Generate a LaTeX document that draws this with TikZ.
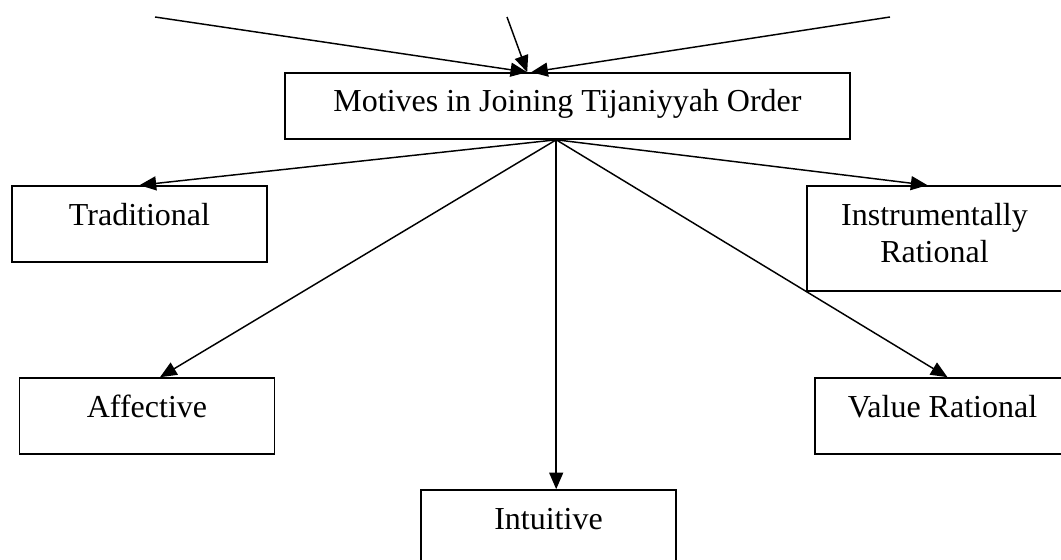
\documentclass[tikz,border=0pt]{standalone}
\usepackage{fontspec}
\setmainfont{Liberation Serif}
\usetikzlibrary{arrows.meta,calc}
\begin{document}
\begin{tikzpicture}[x=0.75pt,y=-0.75pt,
  box/.style={draw=black, line width=1.2pt, inner sep=0pt, minimum width=191.25pt,
    text height=29.25pt, text depth=27.75pt, anchor=base,
    font=\fontsize{24}{27.75}\selectfont},
  conn/.style={line width=1.1pt, -{Triangle[length=12.5pt,width=10.5pt]}}]
\useasboundingbox (0,0) rectangle (1061,560);
\clip (0,0) rectangle (1061,560);
% boxes
\node[box, minimum width=423.75pt, text depth=20.25pt] (main) at (567.5,112) {Motives in Joining Tijaniyyah Order};
\node[box] (trad) at (139.5,225) {Traditional};
\node[box, text depth=49.5pt] (instr) at (934.5,225) {\begin{tabular}[t]{@{}c@{}}Instrumentally\\Rational\end{tabular}};
\node[box] (aff) at (147,417) {Affective};
\node[box] (val) at (942.5,417) {Value Rational};
\node[box] (intu) at (548.5,529) {Intuitive};
% incoming connectors
\coordinate (srcL) at (155,17);
\coordinate (srcM) at (507,17);
\coordinate (srcR) at (890,17);
\coordinate (tipL) at ($(main.north west)+(243,0)$);
\coordinate (tipR) at ($(main.north west)+(247,0)$);
\draw[conn] (srcL) -- (tipL);
\draw[conn] (srcM) -- (tipL);
\draw[conn] (srcR) -- (tipR);
% outgoing connectors
\coordinate (mbot) at ($(main.south west)+(272,0)$);
\draw[conn] (mbot) -- (trad.north);
\draw[conn] (mbot) -- ($(instr.north)+(-7,0)$);
\draw[conn] (mbot) -- ($(aff.north)+(13,0)$);
\draw[conn] (mbot) -- ($(val.north)+(5,0)$);
\draw[conn] (mbot) -- (mbot |- intu.north);
\end{tikzpicture}
\end{document}
